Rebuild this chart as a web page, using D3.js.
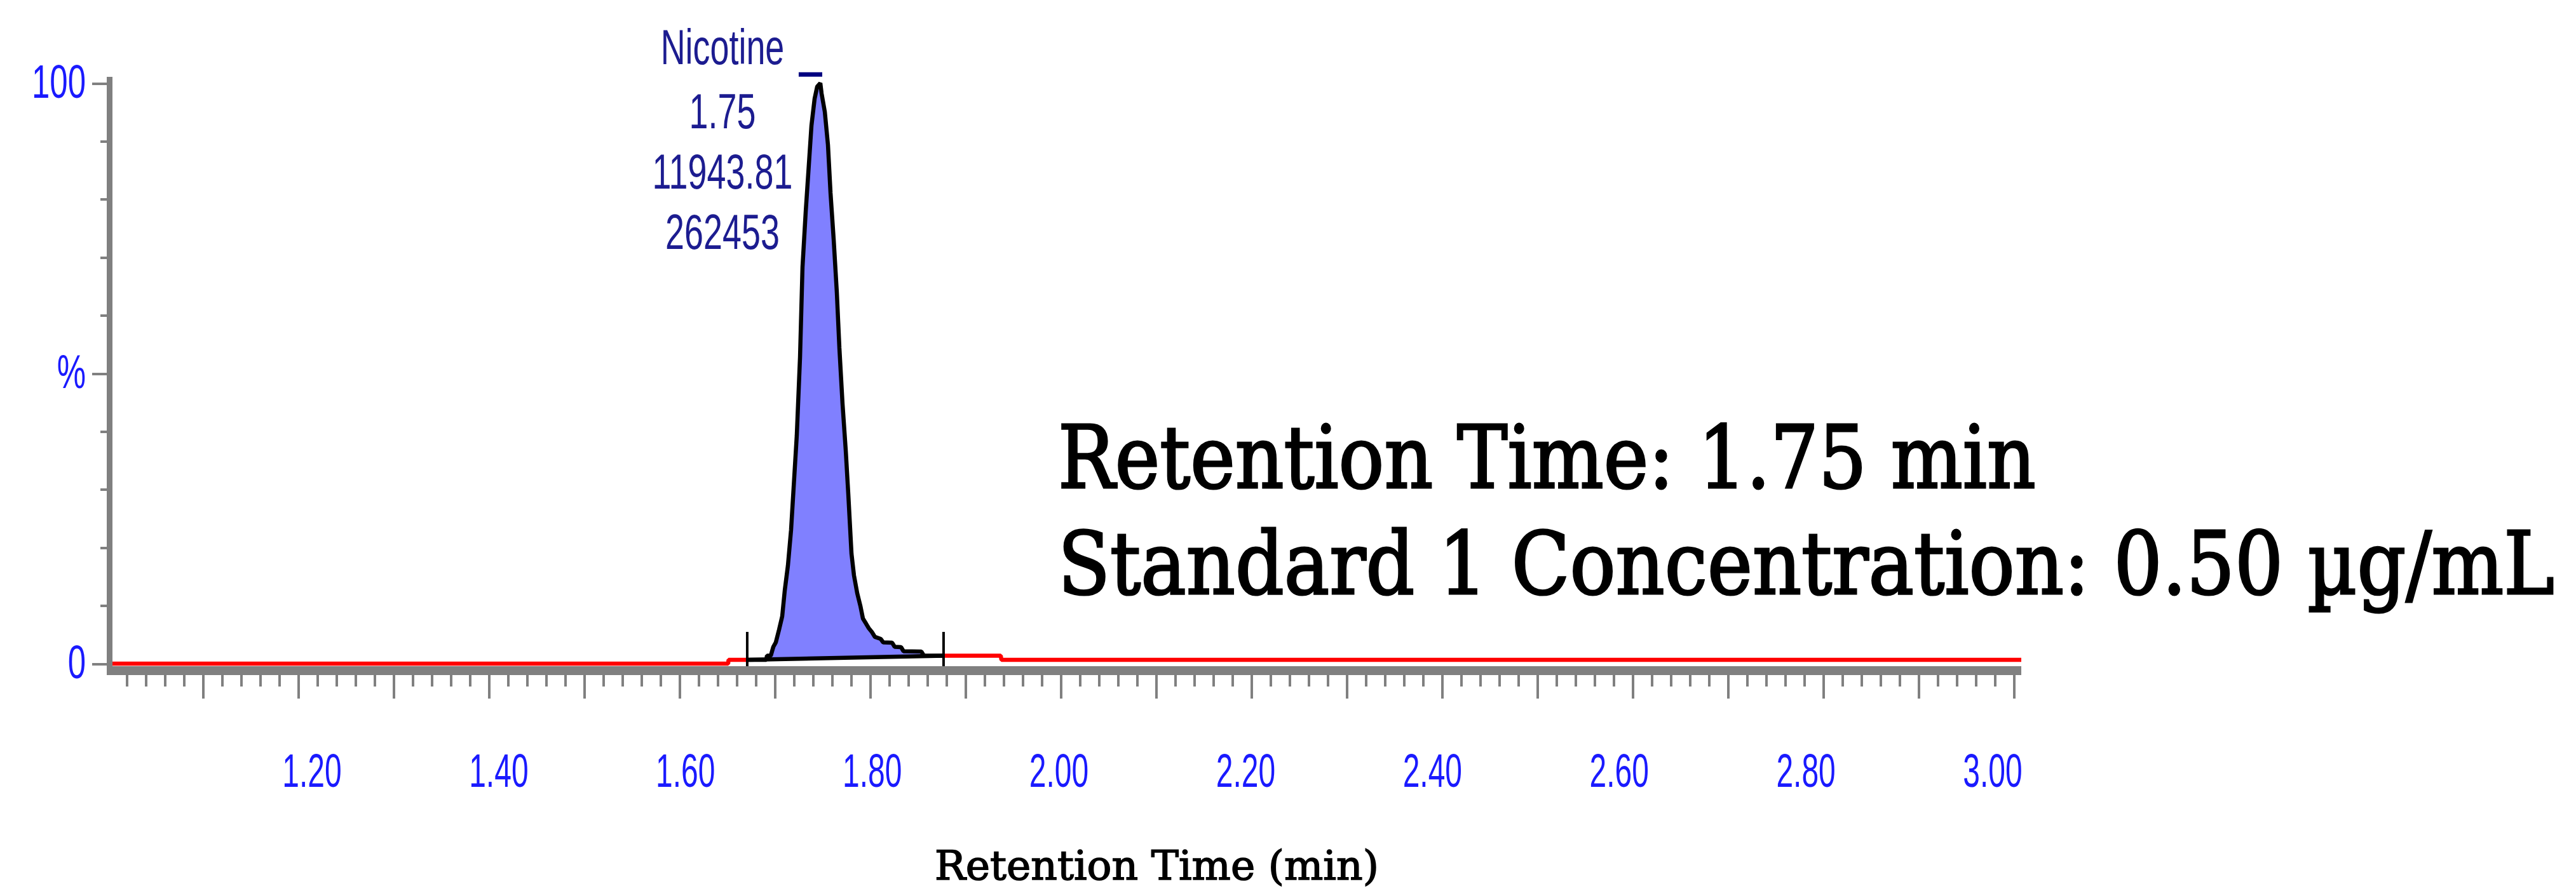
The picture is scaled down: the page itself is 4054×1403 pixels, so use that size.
<!DOCTYPE html>
<html>
<head>
<meta charset="utf-8">
<script src="https://cdn.jsdelivr.net/npm/d3@7"></script>
<style>
  html, body { margin: 0; padding: 0; background: #ffffff; }
  svg { display: block; }
</style>
</head>
<body>
<svg id="chart" width="4054" height="1403"></svg>
<script>
// ---------------- DATA ----------------
const retentionTimes = [
  1.0000, 1.6513, 1.6517, 1.6913, 1.6920, 1.6960,
  1.6987, 1.7013, 1.7047, 1.7080, 1.7107, 1.7140, 1.7173, 1.7200, 1.7233, 1.7267,
  1.7293, 1.7327, 1.7360, 1.7387, 1.7420, 1.7447, 1.7480,
  1.7493, 1.7527, 1.7560, 1.7587, 1.7620, 1.7653, 1.7680, 1.7713, 1.7747, 1.7773,
  1.7807, 1.7833, 1.7867, 1.7900, 1.7927, 1.7960, 1.7987, 1.8020, 1.8053,
  1.8113, 1.8140, 1.8233, 1.8260, 1.8327, 1.8353, 1.8540, 1.8567, 1.8780,
  1.9373, 1.9380, 3.0080
];
const intensities = [
  0.00, 0.00, 0.66, 0.66, 1.37, 1.37,
  2.90, 3.67, 5.85, 8.15, 12.64, 16.90, 23.03, 30.36, 39.33, 52.79,
  68.33, 77.95, 86.05, 92.72, 97.32, 99.40, 100.00,
  98.25, 95.08, 89.39, 81.07, 73.09, 64.00, 54.38, 44.75, 36.65, 29.32,
  18.93, 15.21, 12.14, 9.96, 7.77, 6.89, 6.13, 5.47, 4.60,
  4.27, 3.67, 3.61, 2.90, 2.84, 2.13, 2.08, 1.37, 1.37,
  1.37, 0.66, 0.66
];

const xTickLabelValues = [1.2, 1.4, 1.6, 1.8, 2.0, 2.2, 2.4, 2.6, 2.8, 3.0];
const xTickLabels = ["1.20", "1.40", "1.60", "1.80", "2.00", "2.20", "2.40", "2.60", "2.80", "3.00"];
const yTickLabelValues = [0, 50, 100];
const yTickLabels = ["0", "%", "100"];

const peakApexTime = 1.748;
const peakAnnotation = ["Nicotine", "1.75", "11943.81", "262453"];
const apexMarkerStart = 1.7253, apexMarkerEnd = 1.7500, apexMarkerLevel = 101.5;
const integrationStart = 1.6713, integrationEnd = 1.8773;
const baselineStartLevel = 0.66, baselineEndLevel = 1.37;
const integrationMarkerTop = 5.47, integrationMarkerBottom = -0.44;

const infoLines = ["Retention Time: 1.75 min", "Standard 1 Concentration: 0.50 \u00B5g/mL"];
const xTitle = "Retention Time (min)";

// ---------------- SCALES ----------------
const svg = d3.select("#chart");
svg.append("rect").attr("width", 4054).attr("height", 1403).attr("fill", "#ffffff");

const x = d3.scaleLinear().domain([1.0, 3.0]).range([169, 3169]);
const y = d3.scaleLinear().domain([0, 100]).range([1045, 131]);
const xEnd = 3.008;
// tick labels in the original are slightly compressed relative to the ticks
const xLab = d3.scaleLinear().domain([1.2, 3.0]).range([x(1.2) + 22, x(3.0) - 33]);

const trace = retentionTimes.map((t, i) => ({ t, v: intensities[i] }));

function interp(t) {
  for (let i = 1; i < trace.length; i++) {
    if (trace[i].t >= t) {
      const a = trace[i - 1], b = trace[i];
      const f = (t - a.t) / (b.t - a.t || 1);
      return a.v + f * (b.v - a.v);
    }
  }
  return trace[trace.length - 1].v;
}
const baseAt = d3.scaleLinear().domain([integrationStart, integrationEnd]).range([baselineStartLevel, baselineEndLevel]);

const startPt = { t: integrationStart, v: interp(integrationStart) };
const endPt = { t: integrationEnd, v: interp(integrationEnd) };
const before = trace.filter(d => d.t < integrationStart).concat([startPt]);
const after = [endPt].concat(trace.filter(d => d.t > integrationEnd));
const inside = [startPt]
  .concat(trace.filter(d => d.t > integrationStart && d.t < integrationEnd))
  .concat([endPt]);

const line = d3.line().x(d => x(d.t)).y(d => y(d.v));

// red chromatogram trace (outside the integrated peak)
svg.selectAll("path.red")
  .data([before, after])
  .enter().append("path")
  .attr("class", "red")
  .attr("d", line)
  .attr("fill", "none")
  .attr("stroke", "#ff0000")
  .attr("stroke-width", 6.5)
  .attr("stroke-linejoin", "bevel");

// integrated peak fill
const area = d3.area()
  .x(d => x(d.t))
  .y0(d => y(baseAt(d.t)))
  .y1(d => y(Math.max(d.v, baseAt(d.t))));
svg.append("path")
  .datum(inside)
  .attr("d", area)
  .attr("fill", "#8080ff")
  .attr("stroke", "none");

// black trace inside integration
svg.append("path")
  .datum(inside)
  .attr("d", line)
  .attr("fill", "none")
  .attr("stroke", "#000000")
  .attr("stroke-width", 6.5)
  .attr("stroke-linejoin", "bevel");

// integration baseline
svg.append("line")
  .attr("x1", x(integrationStart)).attr("y1", y(baselineStartLevel))
  .attr("x2", x(integrationEnd)).attr("y2", y(baselineEndLevel))
  .attr("stroke", "#000000").attr("stroke-width", 6.5);

// integration markers
svg.selectAll("line.intmark")
  .data([integrationStart, integrationEnd])
  .enter().append("line")
  .attr("class", "intmark")
  .attr("x1", d => x(d)).attr("x2", d => x(d))
  .attr("y1", y(integrationMarkerTop)).attr("y2", y(integrationMarkerBottom))
  .attr("stroke", "#000000").attr("stroke-width", 4);

// apex marker
svg.append("line")
  .attr("x1", x(apexMarkerStart)).attr("x2", x(apexMarkerEnd))
  .attr("y1", y(apexMarkerLevel)).attr("y2", y(apexMarkerLevel))
  .attr("stroke", "#000080").attr("stroke-width", 7);

// peak annotation
const annX = x(peakApexTime) - 154;
const annBaselines = [y(100) - 30, y(100) + 71, y(100) + 166, y(100) + 261];
svg.selectAll("text.ann")
  .data(peakAnnotation)
  .enter().append("text")
  .attr("class", "ann")
  .attr("transform", (d, i) => `translate(${annX},${annBaselines[i]}) scale(0.70,1)`)
  .attr("text-anchor", "middle")
  .attr("font-family", "Liberation Sans, Arial, sans-serif")
  .attr("font-size", 77)
  .attr("fill", "#1c1c90")
  .text(d => d);

// ---------------- AXES ----------------
const gray = "#808080";
// x axis band
svg.append("rect")
  .attr("x", x(1.0) - 1).attr("y", y(0) + 4)
  .attr("width", x(xEnd) - x(1.0) + 1).attr("height", 14)
  .attr("fill", gray);
// y axis band
svg.append("rect")
  .attr("x", x(1.0) - 1).attr("y", y(100) - 10)
  .attr("width", 9).attr("height", (y(0) + 18) - (y(100) - 10))
  .attr("fill", gray);

const minorX = d3.range(1, 101).map(i => +(1 + i * 0.02).toFixed(2)).filter(v => Math.round(v * 100) % 10 !== 0);
const majorX = d3.range(11, 31).map(i => i / 10);

function styleAxis(g) {
  g.select(".domain").remove();
  g.selectAll(".tick line").attr("stroke", gray).attr("stroke-width", 4).attr("shape-rendering", "crispEdges");
  g.selectAll(".tick text").remove();
}
svg.append("g").attr("transform", `translate(0,${y(0) + 18})`)
  .call(d3.axisBottom(x).tickValues(minorX).tickSize(18).tickFormat(""))
  .call(styleAxis);
svg.append("g").attr("transform", `translate(0,${y(0) + 18})`)
  .call(d3.axisBottom(x).tickValues(majorX).tickSize(37).tickFormat(""))
  .call(styleAxis);

const minorY = d3.range(10, 100, 10).filter(v => v !== 50);
svg.append("g").attr("transform", `translate(${x(1.0) - 1},0)`)
  .call(d3.axisLeft(y).tickValues(minorY).tickSize(10).tickFormat(""))
  .call(styleAxis);
svg.append("g").attr("transform", `translate(${x(1.0) - 1},0)`)
  .call(d3.axisLeft(y).tickValues(yTickLabelValues).tickSize(23).tickFormat(""))
  .call(styleAxis);

// x tick labels
svg.selectAll("text.xlab")
  .data(xTickLabelValues)
  .enter().append("text")
  .attr("class", "xlab")
  .attr("transform", d => `translate(${xLab(d)},${y(0) + 194}) scale(0.64,1)`)
  .attr("text-anchor", "middle")
  .attr("font-family", "Liberation Sans, Arial, sans-serif")
  .attr("font-size", 75)
  .attr("fill", "#1a1aff")
  .text((d, i) => xTickLabels[i]);

// y tick labels
svg.selectAll("text.ylab")
  .data(yTickLabelValues)
  .enter().append("text")
  .attr("class", "ylab")
  .attr("transform", d => `translate(135,${y(d) + 23}) scale(0.68,1)`)
  .attr("text-anchor", "end")
  .attr("font-family", "Liberation Sans, Arial, sans-serif")
  .attr("font-size", 75)
  .attr("fill", "#1a1aff")
  .text((d, i) => yTickLabels[i]);

// helper: fit a serif text to a measured width via horizontal scaling
function fitText(sel, left, baseline, width) {
  const w = sel.node().getComputedTextLength();
  sel.attr("transform", `translate(${left},${baseline}) scale(${width / w},1)`);
}

// x axis title
const title = svg.append("text")
  .attr("x", 0).attr("y", 0)
  .attr("font-family", "DejaVu Serif, serif")
  .attr("font-size", 63)
  .attr("fill", "#000000")
  .attr("stroke", "#000000")
  .attr("stroke-width", 1.6)
  .text(xTitle);
fitText(title, 1471, 1385, 699);

// info text on the right
const infoBaselines = [768, 935];
const infoLengths = [1539, 2355];
infoLines.forEach((txt, i) => {
  const t = svg.append("text")
    .attr("class", "info")
    .attr("x", 0).attr("y", 0)
    .attr("font-family", "DejaVu Serif, serif")
    .attr("font-size", 137)
    .attr("fill", "#000000")
    .attr("stroke", "#000000")
    .attr("stroke-width", 3.2)
    .text(txt);
  fitText(t, 1665, infoBaselines[i], infoLengths[i]);
});
</script>
</body>
</html>
